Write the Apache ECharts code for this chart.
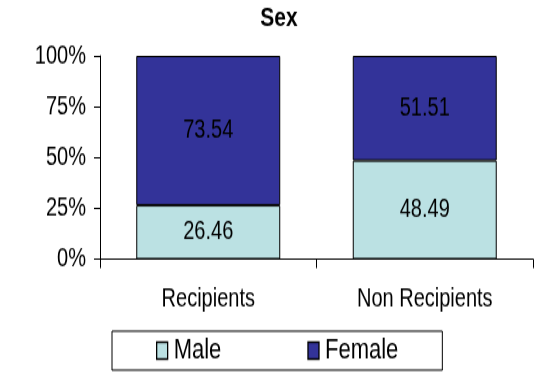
<!DOCTYPE html>
<html>
<head>
<meta charset="utf-8">
<script src="https://cdn.jsdelivr.net/npm/echarts@6/dist/echarts.min.js"></script>
<style>
  html, body { margin: 0; padding: 0; background: #fff; width: 554px; height: 374px; overflow: hidden; }
  #frame { position: relative; width: 554px; height: 374px; overflow: hidden; background: #fff; }
  /* The chart is laid out at 554x288 and stretched vertically to 374px,
     which gives the tall, narrow lettering of the original figure. */
  #chart {
    position: absolute;
    left: 0;
    top: 0;
    width: 554px;
    height: 288px;
    transform: scale(1, 1.2986);
    transform-origin: 0 0;
  }
</style>
</head>
<body>
<div id="frame"><div id="chart"></div></div>
<script>
// Sex split of recipients vs non recipients, as percentage stacks
const categories = ['Recipients', 'Non Recipients'];
const maleValues = [26.46, 48.49];
const femaleValues = [73.54, 51.51];
const yTicks = [0, 25, 50, 75, 100];

const FONT = '"Liberation Sans", Arial, Helvetica, sans-serif';

const chart = echarts.init(document.getElementById('chart'), null, { renderer: 'canvas' });

const labelStyle = {
  show: true,
  position: 'inside',
  color: '#000',
  fontFamily: FONT,
  fontSize: 20,
  formatter: p => p.value.toFixed(2)
};

chart.setOption({
  animation: false,
  backgroundColor: '#fff',
  title: {
    text: 'Sex',
    left: 279,
    textAlign: 'center',
    top: 4,
    padding: 0,
    textStyle: { fontFamily: FONT, fontWeight: 'bold', fontSize: 21, color: '#000' }
  },
  grid: { left: 100, right: 21, top: 43, bottom: 88.5, containLabel: false },
  legend: {
    left: 112,
    top: 255,
    padding: [4, 44, 4, 44],
    borderColor: '#000',
    borderWidth: 1,
    itemGap: 86,
    itemWidth: 11,
    itemHeight: 13,
    icon: 'rect',
    textStyle: { fontFamily: FONT, fontSize: 22, color: '#000', padding: [2, 0, 0, 1] },
    data: [
      { name: 'Male', itemStyle: { borderColor: '#000', borderWidth: 1.3 } },
      { name: 'Female', itemStyle: { borderColor: '#000', borderWidth: 1.3 } }
    ]
  },
  xAxis: {
    type: 'category',
    data: categories,
    boundaryGap: true,
    axisLine: { lineStyle: { color: '#000', width: 1 } },
    axisTick: { show: true, length: 7, lineStyle: { color: '#000' } },
    axisLabel: { color: '#000', fontFamily: FONT, fontSize: 20, margin: 21 }
  },
  yAxis: {
    type: 'value',
    min: yTicks[0],
    max: yTicks[yTicks.length - 1],
    interval: yTicks[1] - yTicks[0],
    axisLine: { show: true, lineStyle: { color: '#000', width: 1 } },
    axisTick: { show: true, length: 6, lineStyle: { color: '#000' } },
    splitLine: { show: false },
    axisLabel: { color: '#000', fontFamily: FONT, fontSize: 20, margin: 14, formatter: '{value}%' }
  },
  series: [
    {
      name: 'Male',
      type: 'bar',
      stack: 'sex',
      barWidth: '66.5%',
      data: maleValues,
      itemStyle: { color: '#BBE1E3', borderColor: '#000', borderWidth: 1 },
      label: labelStyle
    },
    {
      name: 'Female',
      type: 'bar',
      stack: 'sex',
      barWidth: '66.5%',
      data: femaleValues,
      itemStyle: { color: '#333399', borderColor: '#000', borderWidth: 1 },
      label: labelStyle
    }
  ]
});
</script>
</body>
</html>
